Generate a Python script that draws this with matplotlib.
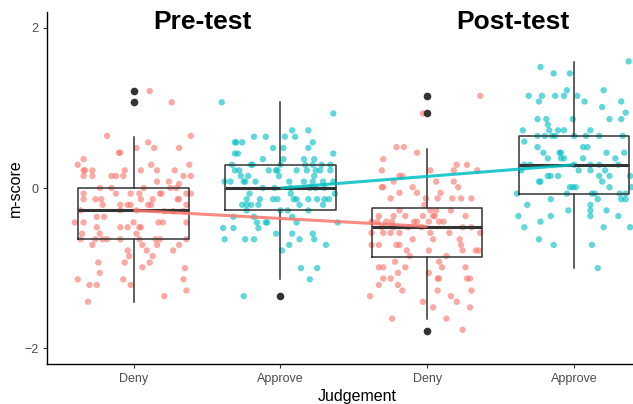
import numpy as np
import matplotlib
matplotlib.use('Agg')
import matplotlib.pyplot as plt

# ====================
# DATOS
# ====================

labels = ['Deny', 'Approve', 'Deny', 'Approve']
positions = [1, 2, 3, 4]

# puntos con jitter: (desplazamiento horizontal, m-score)
pre_deny = [(0.11, 1.21), (0.26, 1.07), (-0.18, 0.65), (0.39, 0.65), (0.10, 0.57), (0.02, 0.50), (0.14, 0.50),
            (0.31, 0.50), (-0.10, 0.44), (-0.09, 0.44), (-0.34, 0.36), (-0.38, 0.29), (0.12, 0.29), (0.38, 0.29),
            (-0.34, 0.22), (-0.33, 0.22), (-0.28, 0.22), (-0.06, 0.22), (0.05, 0.22), (0.16, 0.22), (0.28, 0.22),
            (-0.34, 0.15), (-0.28, 0.15), (-0.15, 0.15), (-0.12, 0.15), (-0.07, 0.15), (0.34, 0.15), (0.39, 0.15),
            (0.16, 0.08), (0.24, 0.08), (0.31, 0.05), (-0.23, 0.0), (-0.15, 0.0), (0.07, 0.0), (0.25, 0.0),
            (0.29, 0.0), (-0.34, -0.07), (-0.12, -0.07), (-0.02, -0.07), (0.04, -0.07), (0.18, -0.07),
            (0.19, -0.07), (0.36, -0.07), (0.39, -0.07), (-0.26, -0.14), (-0.22, -0.14), (0.13, -0.14),
            (0.30, -0.14), (0.31, -0.14), (-0.34, -0.14), (0.05, -0.14), (-0.21, -0.21), (-0.09, -0.21),
            (-0.04, -0.21), (-0.02, -0.21), (0.10, -0.21), (0.12, -0.21), (0.36, -0.21), (0.21, -0.29),
            (0.27, -0.29), (0.34, -0.29), (0.02, -0.28), (-0.09, -0.28), (-0.36, -0.28), (-0.40, -0.43),
            (-0.34, -0.43), (-0.25, -0.36), (-0.20, -0.36), (-0.09, -0.49), (-0.04, -0.49), (0.00, -0.43),
            (0.04, -0.49), (0.05, -0.49), (0.17, -0.43), (0.20, -0.43), (0.36, -0.43), (0.02, -0.57),
            (-0.25, -0.49), (-0.35, -0.57), (-0.23, -0.57), (-0.36, -0.64), (-0.26, -0.64), (-0.21, -0.64),
            (-0.18, -0.64), (-0.09, -0.64), (0.04, -0.64), (0.15, -0.64), (0.18, -0.64), (0.36, -0.64),
            (-0.28, -0.71), (0.06, -0.71), (0.16, -0.71), (0.31, -0.71), (-0.04, -0.78), (0.09, -0.78),
            (0.27, -0.78), (-0.03, -0.85), (0.13, -0.85), (-0.06, -0.93), (0.11, -0.93), (-0.24, -0.93),
            (0.06, -0.99), (0.35, -1.00), (-0.23, -1.06), (-0.38, -1.14), (-0.07, -1.14), (0.34, -1.14),
            (-0.30, -1.21), (-0.25, -1.21), (-0.02, -1.21), (0.36, -1.28), (0.21, -1.35), (-0.31, -1.42)]

pre_approve = [(-0.40, 1.07), (0.36, 0.93), (0.08, 0.72), (0.19, 0.72), (-0.18, 0.64), (-0.10, 0.64), (0.03, 0.64),
               (0.10, 0.64), (-0.31, 0.57), (-0.30, 0.57), (-0.26, 0.57), (0.22, 0.57), (-0.05, 0.50), (0.02, 0.50),
               (0.19, 0.50), (-0.31, 0.43), (-0.29, 0.43), (0.36, 0.43), (-0.12, 0.36), (0.02, 0.36), (0.16, 0.36),
               (0.23, 0.36), (-0.33, 0.29), (-0.20, 0.29), (-0.19, 0.29), (0.0, 0.29), (0.17, 0.29), (0.22, 0.29),
               (0.28, 0.29), (0.34, 0.29), (-0.31, 0.22), (-0.28, 0.22), (-0.08, 0.22), (-0.03, 0.22),
               (-0.02, 0.22), (0.11, 0.22), (0.18, 0.22), (0.24, 0.22), (0.27, 0.22), (0.34, 0.22), (-0.22, 0.15),
               (-0.27, 0.15), (-0.01, 0.15), (0.23, 0.15), (-0.38, 0.08), (-0.34, 0.08), (-0.25, 0.08),
               (-0.24, 0.08), (-0.17, 0.08), (0.06, 0.08), (0.16, 0.08), (0.22, 0.08), (0.29, 0.08), (0.36, 0.08),
               (-0.12, 0.0), (-0.04, 0.0), (0.07, 0.0), (0.20, 0.0), (0.24, 0.0), (0.30, 0.0), (0.37, -0.07),
               (-0.21, -0.07), (0.07, -0.07), (-0.23, -0.14), (-0.14, -0.14), (-0.05, -0.14), (-0.02, -0.14),
               (0.09, -0.14), (0.11, -0.14), (0.19, -0.14), (0.25, -0.14), (0.30, -0.14), (0.33, -0.14),
               (-0.26, -0.21), (-0.23, -0.21), (-0.20, -0.21), (-0.15, -0.21), (0.13, -0.21), (0.29, -0.21),
               (-0.23, -0.28), (0.0, -0.28), (0.05, -0.28), (0.19, -0.28), (-0.32, -0.36), (-0.18, -0.36),
               (0.08, -0.36), (-0.16, -0.43), (-0.10, -0.43), (-0.09, -0.43), (0.11, -0.43), (0.39, -0.43),
               (-0.39, -0.50), (-0.32, -0.50), (-0.15, -0.50), (-0.03, -0.57), (0.08, -0.57), (0.22, -0.57),
               (-0.38, -0.64), (-0.24, -0.64), (-0.18, -0.64), (0.13, -0.64), (0.23, -0.64), (0.06, -0.71),
               (0.31, -0.71), (0.01, -0.78), (0.14, -1.00), (0.25, -1.00), (0.20, -1.14), (-0.25, -1.35)]

post_deny = [(0.36, 1.15), (-0.03, 0.93), (-0.21, 0.51), (-0.16, 0.51), (-0.07, 0.44), (-0.30, 0.36), (-0.31, 0.22),
             (0.02, 0.22), (0.18, 0.22), (0.20, 0.29), (0.27, 0.29), (0.34, 0.22), (-0.19, 0.15), (-0.17, 0.15),
             (-0.23, 0.08), (0.06, 0.08), (0.18, 0.08), (-0.31, 0.01), (-0.30, 0.01), (-0.10, 0.01), (0.21, 0.01),
             (-0.19, -0.06), (-0.07, -0.06), (0.09, -0.06), (-0.25, -0.13), (-0.01, -0.13), (0.07, -0.13),
             (0.17, -0.13), (0.23, -0.13), (0.30, -0.13), (-0.02, -0.21), (-0.19, -0.28), (0.02, -0.28),
             (0.06, -0.28), (0.16, -0.28), (-0.33, -0.35), (-0.23, -0.35), (-0.15, -0.35), (-0.03, -0.35),
             (0.04, -0.35), (0.05, -0.35), (0.26, -0.35), (-0.38, -0.42), (-0.34, -0.42), (-0.28, -0.42),
             (-0.24, -0.42), (-0.09, -0.42), (-0.07, -0.42), (0.01, -0.42), (0.08, -0.42), (0.11, -0.42),
             (-0.31, -0.49), (-0.23, -0.49), (-0.13, -0.49), (-0.04, -0.49), (0.24, -0.49), (0.30, -0.49),
             (-0.38, -0.56), (-0.30, -0.56), (-0.25, -0.56), (-0.19, -0.56), (0.02, -0.56), (0.15, -0.56),
             (0.36, -0.56), (-0.10, -0.64), (0.04, -0.64), (0.22, -0.64), (-0.38, -0.71), (-0.33, -0.71),
             (-0.21, -0.71), (-0.19, -0.71), (0.23, -0.71), (-0.14, -0.78), (0.01, -0.78), (0.24, -0.78),
             (0.33, -0.78), (0.35, -0.78), (-0.12, -0.85), (0.13, -0.85), (-0.22, -0.92), (0.08, -0.92),
             (-0.33, -0.99), (-0.30, -0.99), (-0.15, -0.99), (0.10, -0.99), (0.26, -0.99), (-0.20, -1.06),
             (0.01, -1.06), (-0.30, -1.13), (-0.25, -1.13), (0.07, -1.13), (0.08, -1.13), (0.27, -1.13),
             (0.29, -1.13), (-0.33, -1.21), (-0.20, -1.21), (0.30, -1.28), (-0.17, -1.28), (0.07, -1.28),
             (-0.39, -1.35), (0.16, -1.35), (-0.03, -1.42), (0.20, -1.42), (0.04, -1.49), (0.29, -1.49),
             (-0.24, -1.63), (0.13, -1.63), (0.24, -1.77)]

post_approve = [(-0.23, 1.51), (-0.14, 1.43), (-0.03, 1.43), (0.37, 1.58), (-0.05, 1.22), (-0.31, 1.15),
                (-0.22, 1.15), (-0.13, 1.15), (-0.07, 1.15), (0.02, 1.15), (0.20, 1.22), (-0.24, 1.08),
                (0.07, 1.08), (0.32, 1.08), (0.19, 1.01), (0.35, 0.94), (-0.25, 0.86), (-0.19, 0.86),
                (-0.01, 0.86), (0.24, 0.86), (0.32, 0.86), (-0.18, 0.79), (-0.35, 0.72), (-0.17, 0.72),
                (-0.11, 0.72), (-0.07, 0.72), (0.11, 0.72), (-0.25, 0.65), (-0.20, 0.65), (-0.15, 0.65),
                (-0.13, 0.65), (0.0, 0.65), (0.08, 0.65), (0.17, 0.65), (0.33, 0.65), (-0.34, 0.58),
                (-0.25, 0.51), (0.06, 0.51), (0.09, 0.51), (-0.21, 0.44), (-0.10, 0.44), (-0.09, 0.44),
                (0.22, 0.44), (0.34, 0.44), (-0.18, 0.37), (-0.09, 0.37), (-0.07, 0.37), (0.06, 0.37),
                (0.28, 0.37), (-0.34, 0.29), (-0.30, 0.29), (0.0, 0.29), (0.11, 0.29), (0.17, 0.29), (0.30, 0.29),
                (-0.36, 0.22), (0.03, 0.22), (0.11, 0.22), (0.21, 0.22), (-0.18, 0.15), (-0.16, 0.15),
                (-0.11, 0.15), (0.17, 0.15), (0.24, 0.15), (0.38, 0.15), (-0.24, 0.08), (-0.23, 0.08),
                (0.19, 0.08), (0.24, 0.01), (-0.03, 0.01), (-0.01, 0.01), (0.01, 0.01), (-0.39, -0.07),
                (-0.05, -0.07), (0.12, -0.07), (0.14, -0.07), (0.31, -0.07), (0.35, -0.07), (0.39, 0.01),
                (-0.16, -0.14), (0.16, -0.14), (0.32, -0.14), (0.35, -0.14), (-0.32, -0.21), (0.11, -0.21),
                (-0.04, -0.28), (0.11, -0.28), (0.22, -0.28), (-0.38, -0.35), (-0.16, -0.35), (0.11, -0.35),
                (0.30, -0.35), (-0.23, -0.42), (-0.34, -0.49), (0.20, -0.49), (0.38, -0.49), (-0.24, -0.64),
                (-0.14, -0.71), (0.12, -0.71), (0.16, -1.00)]

# estadisticos de las cajas: q1, mediana, q3, bigote inferior, bigote superior
q1 = [-0.64, -0.28, -0.86, -0.07]
medians = [-0.27, 0.0, -0.49, 0.29]
q3 = [0.0, 0.29, -0.25, 0.65]
whis_lo = [-1.42, -1.14, -1.64, -1.00]
whis_hi = [0.64, 1.07, 0.49, 1.57]
outliers = [[1.21, 1.07], [-1.35], [1.15, 0.93, -1.78], []]

# lineas que unen pre y post
deny_x = [1, 3]
deny_mean = [-0.28, -0.48]
approve_x = [2, 4]
approve_mean = [0.0, 0.29]

red = '#F8766D'
cyan = '#00BFC4'

# ====================
# GRAFICO
# ====================

plt.rcParams['font.family'] = ['Liberation Sans', 'DejaVu Sans']

fig = plt.figure(figsize=(6.33, 4.04), dpi=100)
ax = fig.add_axes([0.0738, 0.0983, 0.9262, 0.8727])

groups = [pre_deny, pre_approve, post_deny, post_approve]
colors = [red, cyan, red, cyan]
for pos, pts, col in zip(positions, groups, colors):
    arr = np.array(pts)
    ax.scatter(pos + arr[:, 0], arr[:, 1], s=21, color=col, alpha=0.62,
               edgecolors='none', zorder=2)

stats = []
for i in range(4):
    stats.append({'q1': q1[i], 'med': medians[i], 'q3': q3[i],
                  'whislo': whis_lo[i], 'whishi': whis_hi[i], 'fliers': outliers[i]})

ax.bxp(stats, positions=positions, widths=0.75, showcaps=False,
       patch_artist=False,
       boxprops=dict(color='#333333', linewidth=1.1),
       whiskerprops=dict(color='#333333', linewidth=1.1),
       medianprops=dict(color='#333333', linewidth=2.2),
       flierprops=dict(marker='o', markerfacecolor='#333333', markeredgecolor='none',
                       markersize=5.5),
       zorder=3)

ax.plot(deny_x, deny_mean, color=red, linewidth=2.2, alpha=0.85, zorder=4, solid_capstyle='butt')
ax.plot(approve_x, approve_mean, color=cyan, linewidth=2.2, alpha=0.85, zorder=4, solid_capstyle='butt')

ax.text(1.47, 2.07, 'Pre-test', ha='center', va='center', fontsize=19, fontweight='bold')
ax.text(3.58, 2.07, 'Post-test', ha='center', va='center', fontsize=19, fontweight='bold')

ax.set_xlim(0.409, 4.40)
ax.set_ylim(-2.2, 2.2)
ax.set_xticks(positions)
ax.set_xticklabels(labels)
ax.set_yticks([-2, 0, 2])
ax.tick_params(colors='#333333', labelcolor='#4D4D4D', labelsize=9, length=3, width=0.8, pad=3)

ax.spines['top'].set_visible(False)
ax.spines['right'].set_visible(False)
ax.spines['left'].set_linewidth(1.0)
ax.spines['bottom'].set_linewidth(1.0)

ax.set_xlabel('Judgement', fontsize=11.5)
ax.set_ylabel('m-score', fontsize=11.5)
ax.xaxis.set_label_coords(0.529, -0.07)
ax.yaxis.set_label_coords(-0.040, 0.5)

plt.savefig('out.png', dpi=100)
